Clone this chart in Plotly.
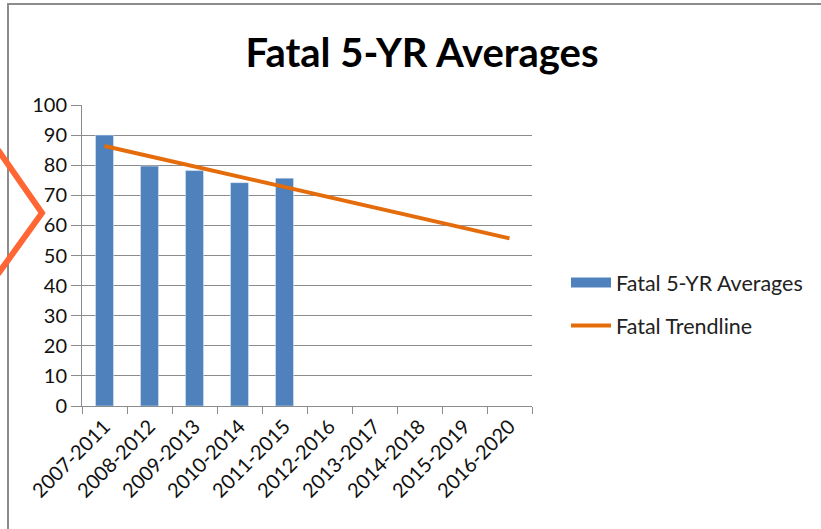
import plotly.graph_objects as go

periods = ['2007-2011', '2008-2012', '2009-2013', '2010-2014', '2011-2015',
           '2012-2016', '2013-2017', '2014-2018', '2015-2019', '2016-2020']
fatal_avg = [90.0, 79.7, 78.2, 74.2, 75.7]
trend = [86.4, 83.0, 79.6, 76.2, 72.7, 69.3, 65.9, 62.5, 59.1, 55.7]

W, H = 821, 529
L, R, T, B = 82, 289, 105, 123
pw, ph = W - L - R, H - T - B


def px(x):
    return (x - L) / pw


def py(y):
    return (H - B - y) / ph


fnt = 'Lato, Carlito, Calibri, sans-serif'
blue = '#4F81BD'

fig = go.Figure()
fig.add_trace(go.Bar(x=periods[:len(fatal_avg)], y=fatal_avg, name='Fatal 5-YR Averages',
                     marker_color=blue, showlegend=False))
# legend-only entry so the key is a wide block like the original
fig.add_trace(go.Scatter(x=[None], y=[None], mode='lines', name='Fatal 5-YR Averages',
                         line=dict(color=blue, width=11), legendgroup='a'))
fig.add_trace(go.Scatter(x=periods, y=trend, mode='lines', name='Fatal Trendline',
                         line=dict(color='#E46C0A', width=4), legendgroup='b'))

fig.update_layout(
    width=W, height=H, margin=dict(l=L, r=R, t=T, b=B, autoexpand=False),
    plot_bgcolor='white', paper_bgcolor='white',
    font=dict(family=fnt, size=20, color='#111'),
    title=dict(text='<b>Fatal 5-YR Averages</b>', x=0.514, xanchor='center', y=0.9,
               yanchor='middle', font=dict(size=40, color='#000')),
    bargap=0.6,
    legend=dict(x=px(566), y=py(262), xanchor='left', yanchor='top', tracegroupgap=12,
                itemwidth=40, font=dict(size=21.5, color='#222')),
    shapes=[
        dict(type='rect', xref='paper', yref='paper', x0=px(8), x1=px(840), y0=py(4), y1=py(560),
             line=dict(color='#8c8c8c', width=2), layer='below'),
        dict(type='path', xref='paper', yref='paper',
             path=f'M {px(-2)},{py(150)} L {px(42)},{py(213)} L {px(-2)},{py(274)}',
             line=dict(color='#FF6633', width=6)),
    ],
)
fig.update_xaxes(type='category', categoryorder='array', categoryarray=periods,
                 range=[-0.5, len(periods) - 0.5], tickangle=-45, showline=True,
                 linecolor='#8c8c8c', linewidth=1, ticks='outside', tickson='boundaries',
                 ticklen=7, tickcolor='#8c8c8c', showgrid=False, tickfont=dict(size=20),
                 automargin=False)
fig.update_yaxes(range=[0, 100], dtick=10, showline=True, linecolor='#8c8c8c', linewidth=1,
                 ticks='outside', ticklen=10, tickcolor='#8c8c8c', gridcolor='#8c8c8c',
                 gridwidth=1, tickfont=dict(size=20), zeroline=False, automargin=False)

fig.write_html('out.html', config={'displayModeBar': False},
               post_script="document.body.style.margin='0';")
